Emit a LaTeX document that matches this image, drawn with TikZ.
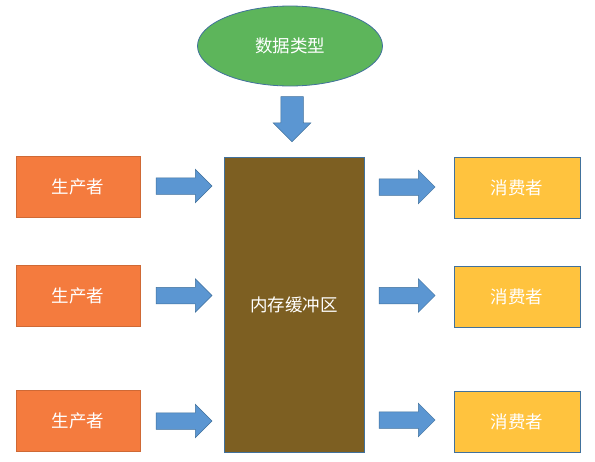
\documentclass[tikz,border=0pt]{standalone}
\usepackage{fontspec}
\setmainfont{Noto Sans CJK SC}
\usetikzlibrary{shapes.geometric,shapes.arrows,calc}

\definecolor{typegreen}{HTML}{5DB55B}
\definecolor{edgeblue}{HTML}{41719C}
\definecolor{prodorange}{HTML}{F47B3E}
\definecolor{consyellow}{HTML}{FFC33E}
\definecolor{bufbrown}{HTML}{7D5F22}
\definecolor{arrowblue}{HTML}{5B96D2}

\tikzset{
  every node/.style={font=\fontsize{17.5}{20}\selectfont,text=white,inner sep=0pt}
}
\tikzset{type ellipse/.style={draw=edgeblue,line width=0.8pt,ellipse,fill=typegreen,minimum width=185pt,minimum height=80pt}}
\tikzset{prod box/.style={draw=prodorange!85!black,line width=0.4pt,fill=prodorange,minimum width=124pt,minimum height=61pt}}
\tikzset{cons box/.style={draw=edgeblue,line width=0.6pt,fill=consyellow,minimum width=126pt,minimum height=61pt}}
\tikzset{block arrow/.style={draw=edgeblue,line width=0.5pt,fill=arrowblue,single arrow,inner xsep=0pt,inner ysep=8pt,single arrow head extend=8.5pt,minimum width=33pt,minimum height=56pt}}

\begin{document}
\begin{tikzpicture}[x=1pt,y=-1pt]
  \useasboundingbox (0,0) rectangle (595,461);

  \node [type ellipse]  (type) at (290,46)   {数据类型};
  \node [draw=edgeblue,line width=0.6pt,fill=bufbrown,minimum width=140pt,minimum height=295pt]
                        (buf)  at (294,304.5) {内存缓冲区};

  \node [prod box]      (p1)   at (78,187)   {生产者};
  \node [prod box]      (p2)   at (78,295.5) {生产者};
  \node [prod box]      (p3)   at (78,421)   {生产者};
  \node [cons box]      (c1)   at (517,188)  {消费者};
  \node [cons box]      (c2)   at (517,296.5){消费者};
  \node [cons box]      (c3)   at (517,422)  {消费者};

  % arrows into and out of the buffer
  \node [block arrow, inner ysep=11pt, minimum width=37pt, minimum height=45pt, single arrow head extend=7.5pt, rotate=-90]
                        (in)   at ($(type.south)!0.5!(buf.north)+(0,-8)$) {};
  \node [block arrow]   (a1)   at ($(p1.east)!0.5!(p1.east -| buf.west)+(-2,-1)$) {};
  \node [block arrow]   (a2)   at ($(p2.east)!0.5!(p2.east -| buf.west)+(-2,0)$)  {};
  \node [block arrow]   (a3)   at ($(p3.east)!0.5!(p3.east -| buf.west)+(-2,0)$)  {};
  \node [block arrow]   (b1)   at ($(buf.east |- c1.west)!0.5!(c1.west)+(-6,-1)$) {};
  \node [block arrow]   (b2)   at ($(buf.east |- c2.west)!0.5!(c2.west)+(-6,-1)$) {};
  \node [block arrow]   (b3)   at ($(buf.east |- c3.west)!0.5!(c3.west)+(-6,-2)$) {};

\end{tikzpicture}
\end{document}
